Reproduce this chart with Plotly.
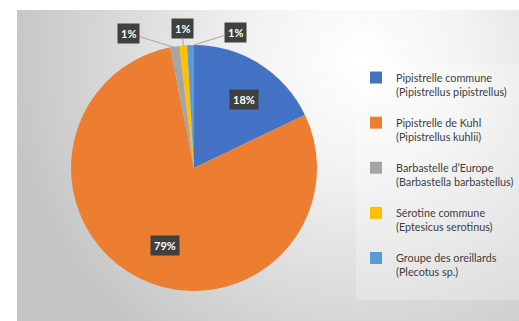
import math, base64
import plotly.graph_objects as go

# ---- data ----
labels = ["Pipistrelle commune<br>(Pipistrellus pipistrellus)",
          "Pipistrelle de Kuhl<br>(Pipistrellus kuhlii)",
          "Barbastelle d\u2019Europe<br>(Barbastella barbastellus)",
          "S\u00e9rotine commune<br>(Eptesicus serotinus)",
          "Groupe des oreillards<br>(Plecotus sp.)"]
values = [17.9, 79.0, 1.2, 1.0, 0.9]
colors = ["#4472C4", "#ED7D31", "#A5A5A5", "#FFC000", "#5B9BD5"]

W, H = 519, 321
cx, cy, R = 194, 168, 123  # pie centre/radius in px (layout)
dom_x = [(cx - R) / W, (cx + R) / W]
dom_y = [(H - cy - R) / H, (H - cy + R) / H]

fig = go.Figure(go.Pie(
    labels=[l + "<br> " for l in labels], values=values, sort=False,
    direction="clockwise", rotation=0,
    marker=dict(colors=colors, line=dict(width=0)),
    textinfo="none", hoverinfo="percent",
    domain=dict(x=dom_x, y=dom_y), showlegend=True,
))

# label annotations derived from slice angles
total = sum(values)
cum = 0
offsets = [None, None, (-46, -14), (-1, -18), (45, -14)]
inside_frac = [0.76, 0.8, 0, 0, 0]
for v, off, fr in zip(values, offsets, inside_frac):
    mid = (cum + v / 2) / total * 2 * math.pi
    cum += v
    pct = f"{round(v / total * 100)}%"
    sx, sy = math.sin(mid), math.cos(mid)
    common = dict(xref="paper", yref="paper", text=f"<b>{pct}</b>",
                  font=dict(color="white", size=11, family="Lato"),
                  bgcolor="#404040", borderpad=3)
    if off is None:
        px = cx + fr * R * sx
        py = cy - fr * R * sy
        fig.add_annotation(x=px / W, y=(H - py) / H, showarrow=False, **common)
    else:
        px = cx + (R - 1) * sx
        py = cy - (R - 1) * sy
        fig.add_annotation(x=px / W, y=(H - py) / H, showarrow=True, ax=off[0], ay=off[1],
                           arrowhead=0, arrowwidth=1, arrowcolor="#A6A6A6", **common)

# background radial gradient
svg = '''<svg xmlns="http://www.w3.org/2000/svg" width="502" height="311">
<defs><radialGradient id="g" gradientUnits="userSpaceOnUse" cx="345" cy="50" r="360">
<stop offset="0" stop-color="#ffffff"/><stop offset="0.3" stop-color="#f3f3f3"/><stop offset="1" stop-color="#c4c4c4"/></radialGradient></defs>
<rect width="502" height="311" fill="url(#g)"/></svg>'''
src = "data:image/svg+xml;base64," + base64.b64encode(svg.encode()).decode()
fig.add_layout_image(source=src, xref="paper", yref="paper", x=17 / W, y=1 - 10 / H,
                     sizex=(W - 17) / W, sizey=(H - 10) / H, sizing="stretch",
                     xanchor="left", yanchor="top", layer="below")

fig.update_layout(
    width=W, height=H, margin=dict(l=0, r=0, t=0, b=0, autoexpand=False),
    paper_bgcolor="white",
    font=dict(family="Lato", color="#404040"),
    legend=dict(x=356 / W, y=1 - 64 / H, xanchor="left", yanchor="top",
                font=dict(size=10.8, color="#404040", family="Lato"),
                bgcolor="rgba(255,255,255,0.25)", valign="top",
                itemwidth=30, tracegroupgap=0),
)
fig.write_html("out.html")
